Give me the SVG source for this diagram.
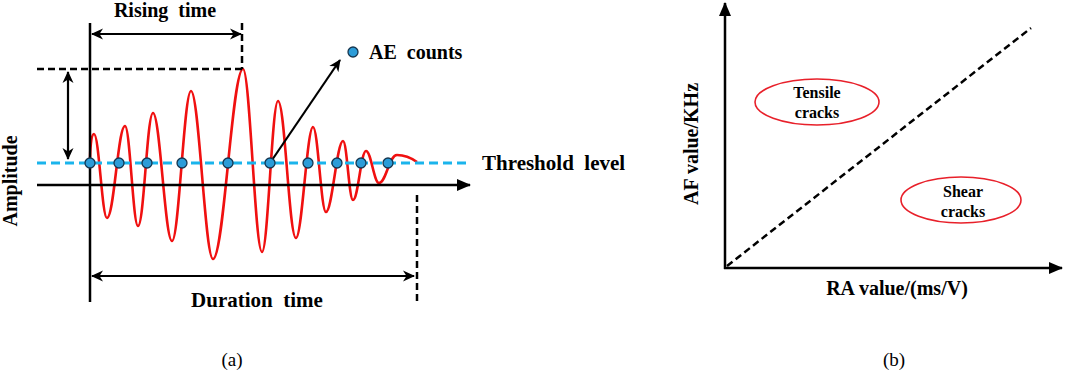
<svg xmlns="http://www.w3.org/2000/svg" width="1065" height="376" viewBox="0 0 1065 376">
<style>
.t{font-family:'Liberation Serif','DejaVu Serif',serif;font-weight:700;fill:#000;white-space:pre}
.cap{font-family:'Liberation Serif','DejaVu Serif',serif;font-size:19px;fill:#000}
.ax{stroke:#000;stroke-width:2.5;fill:none}
.dim{stroke:#000;stroke-width:2.2;fill:none}
.dash{stroke:#000;stroke-width:2.5;fill:none;stroke-dasharray:7 4}
.thr{stroke:#1AB4EC;stroke-width:3;fill:none;stroke-dasharray:9 5}
.dot{fill:#2C9CD8;stroke:#16364F;stroke-width:1.3}
.ell{fill:none;stroke:#E8202A;stroke-width:1.6}
</style>
<defs>
<marker id="tri" viewBox="0 -7 14 14" refX="13" refY="0" markerWidth="14" markerHeight="14" markerUnits="userSpaceOnUse" orient="auto">
<path d="M0,-6 L14,0 L0,6 z" fill="#000"/>
</marker>
<marker id="barb" viewBox="0 -6 12 12" refX="11" refY="0" markerWidth="12" markerHeight="12" markerUnits="userSpaceOnUse" orient="auto-start-reverse">
<path d="M0,-5.5 L12,0 L0,5.5 L3.5,0 z" fill="#000"/>
</marker>
</defs>

<g id="panel-a">
<g id="waveform">
<path fill="none" stroke="#F01010" stroke-width="2.6" d="M90,163 C90,150 91,134 94,134 C99,134 102,218 107,218 C114,218 118,126 125,126 C130,126 133,226 138,226 C144,226 147,113 153,113 C160,113 165,241 172,241 C179,241 184,91 191,91 C199,91 205,259 213,259 C224,259 232,69 243,69 C250,69 255,252 262,252 C268,252 272,101 278,101 C285,101 289,238 296,238 C302,238 307,127 313,127 C318,127 321,212 326,212 C332,212 337,141 343,141 C347,141 349,200 353,200 C358,200 361,151 366,151 C371,151 374,183 379,183 C386,183 389,155 397,155 C404,155 410,157 417,162"/>
</g>
<g id="connectors-a">
<line class="ax" x1="90" y1="23" x2="90" y2="302"/>
<line class="ax" x1="37" y1="185" x2="470" y2="185" marker-end="url(#tri)"/>
<line class="thr" x1="37" y1="163" x2="470" y2="163"/>
<line class="dash" x1="242" y1="23" x2="242" y2="69"/>
<line class="dash" x1="37" y1="69" x2="242" y2="69"/>
<line class="dash" x1="417" y1="195" x2="417" y2="302"/>
<line class="dim" x1="92" y1="34" x2="241" y2="34" marker-start="url(#barb)" marker-end="url(#barb)"/>
<line class="dim" x1="68" y1="72" x2="68" y2="159" marker-start="url(#barb)" marker-end="url(#barb)"/>
<line class="dim" x1="92" y1="276" x2="414" y2="276" marker-start="url(#barb)" marker-end="url(#barb)"/>
<line class="dim" x1="270" y1="163" x2="340" y2="60" marker-end="url(#barb)"/>
</g>
<g id="ae-dots">
<circle class="dot" cx="90" cy="163" r="5"/>
<circle class="dot" cx="119" cy="163" r="5"/>
<circle class="dot" cx="147" cy="163" r="5"/>
<circle class="dot" cx="182" cy="163" r="5"/>
<circle class="dot" cx="228" cy="163" r="5"/>
<circle class="dot" cx="270" cy="163" r="5"/>
<circle class="dot" cx="308" cy="163" r="5"/>
<circle class="dot" cx="337" cy="163" r="5"/>
<circle class="dot" cx="361" cy="163" r="5"/>
<circle class="dot" cx="388" cy="163" r="5"/>
<circle class="dot" cx="353" cy="52" r="5"/>
</g>
<g id="labels-a">
<text class="t" x="165" y="17" font-size="20" text-anchor="middle">Rising  time</text>
<text class="t" x="369" y="59" font-size="20">AE  counts</text>
<text class="t" x="482" y="170" font-size="21">Threshold  level</text>
<text class="t" x="257" y="307" font-size="21" text-anchor="middle">Duration  time</text>
<text class="t" transform="translate(17,181) rotate(-90)" font-size="20" text-anchor="middle">Amplitude</text>
<text class="cap" x="232" y="366" text-anchor="middle">(a)</text>
</g>
</g>

<g id="panel-b">
<g id="connectors-b">
<line class="ax" x1="725" y1="269" x2="725" y2="3" marker-end="url(#tri)"/>
<line class="ax" x1="724" y1="268" x2="1062" y2="268" marker-end="url(#tri)"/>
<line class="dash" x1="727" y1="266" x2="1031" y2="28" stroke-width="2.2" stroke-dasharray="6 4"/>
</g>
<g id="tensile">
<ellipse class="ell" cx="817" cy="102" rx="62" ry="23"/>
<text class="t" x="817" y="98" font-size="16" text-anchor="middle">Tensile</text>
<text class="t" x="817" y="118" font-size="16" text-anchor="middle">cracks</text>
</g>
<g id="shear">
<ellipse class="ell" cx="961" cy="200" rx="60" ry="23"/>
<text class="t" x="963" y="197" font-size="16" text-anchor="middle">Shear</text>
<text class="t" x="963" y="217" font-size="16" text-anchor="middle">cracks</text>
</g>
<g id="labels-b">
<text class="t" transform="translate(698,144) rotate(-90)" font-size="20" text-anchor="middle">AF value/KHz</text>
<text class="t" x="897" y="295" font-size="20" text-anchor="middle">RA value/(ms/V)</text>
<text class="cap" x="894" y="366" text-anchor="middle">(b)</text>
</g>
</g>
</svg>
